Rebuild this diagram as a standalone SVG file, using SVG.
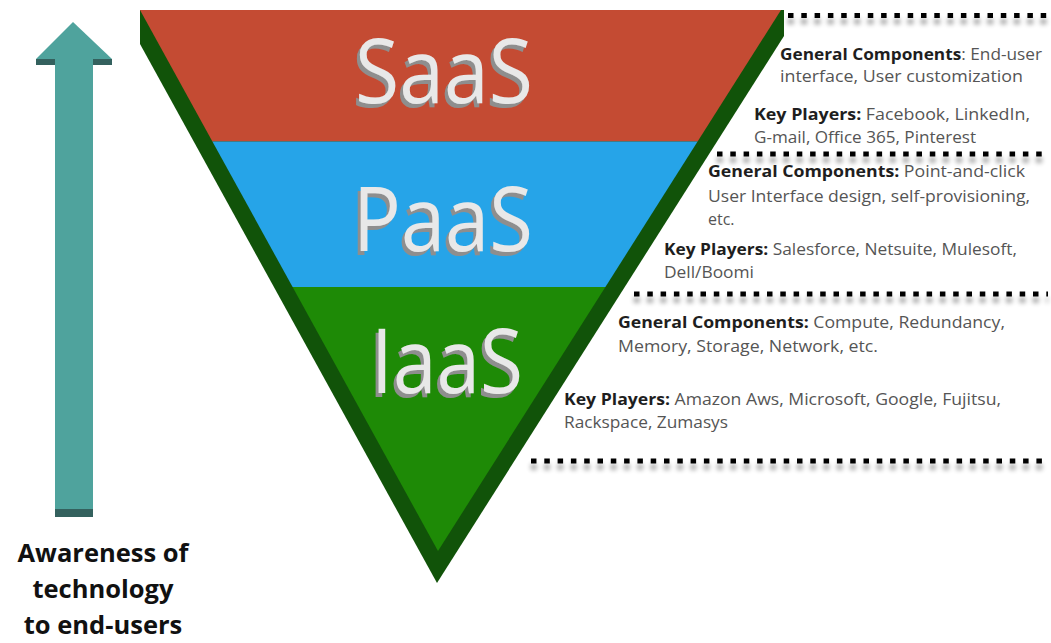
<svg xmlns="http://www.w3.org/2000/svg" width="1051" height="643" viewBox="0 0 1051 643">
  <defs>
    <style>
      .layer-title { font-family: "Open Sans", "Liberation Sans", sans-serif; font-size: 90px; fill: #E8E8E8; filter: url(#depth); }
      .detail { font-family: "Open Sans", "Liberation Sans", sans-serif; font-size: 16px; fill: #555555; }
      .detail .key { font-weight: 700; fill: #1E1E1E; }
      .dots { stroke: #000000; stroke-width: 5; stroke-dasharray: 5.5 7.8; fill: none; }
      .axis-label { font-family: "Open Sans", "Liberation Sans", sans-serif; font-size: 25.5px; font-weight: 700; fill: #111111; text-anchor: middle; }
    </style>
    <!-- grey extrusion under the layer titles -->
    <filter id="depth" x="-10%" y="-20%" width="120%" height="140%">
      <feOffset in="SourceAlpha" dx="-3" dy="4" result="moved"/>
      <feFlood flood-color="#8E8E8E"/>
      <feComposite in2="moved" operator="in" result="extrusion"/>
      <feMerge>
        <feMergeNode in="extrusion"/>
        <feMergeNode in="SourceGraphic"/>
      </feMerge>
    </filter>
    <filter id="soft-shadow" x="-5%" y="-200%" width="110%" height="500%">
      <feGaussianBlur in="SourceAlpha" stdDeviation="2.5" result="blur"/>
      <feOffset in="blur" dx="0" dy="6" result="off"/>
      <feComponentTransfer in="off" result="shade">
        <feFuncA type="linear" slope="0.45"/>
      </feComponentTransfer>
      <feMerge>
        <feMergeNode in="shade"/>
        <feMergeNode in="SourceGraphic"/>
      </feMerge>
    </filter>
  </defs>

  <rect width="1051" height="643" fill="#FFFFFF"/>

  <!-- upward arrow: awareness of technology -->
  <g id="arrow">
    <rect x="55" y="59" width="38" height="452" fill="#4FA39D"/>
    <rect x="55" y="509" width="38" height="8" fill="#34615E"/>
    <rect x="36" y="59" width="19" height="6" fill="#34615E"/>
    <rect x="93" y="59" width="19" height="6" fill="#34615E"/>
    <polygon points="73,22 112,59 36,59" fill="#4FA39D"/>
  </g>

  <g id="awareness-label">
    <text class="axis-label" x="103" y="562">Awareness of</text>
    <text class="axis-label" x="103" y="598">technology</text>
    <text class="axis-label" x="103" y="634">to end-users</text>
  </g>

  <!-- inverted pyramid with extruded edge -->
  <g id="pyramid">
    <polygon points="140,10 140,44 437,583 784,36 784,10" fill="#115309"/>
    <g id="layer-saas">
      <polygon points="140,10 781,10 697.6,141.5 212.4,141.5" fill="#C44B33"/>
      <text class="layer-title" x="355" y="103" textLength="178" lengthAdjust="spacingAndGlyphs">SaaS</text>
    </g>
    <g id="layer-paas">
      <polygon points="212.4,141.5 697.6,141.5 605.4,287 292.6,287" fill="#26A4E8"/>
      <text class="layer-title" x="353" y="251" textLength="180" lengthAdjust="spacingAndGlyphs">PaaS</text>
    </g>
    <g id="layer-iaas">
      <polygon points="292.6,287 605.4,287 438,551" fill="#1E8A06"/>
      <text class="layer-title" x="371" y="393" textLength="152" lengthAdjust="spacingAndGlyphs">IaaS</text>
    </g>
  </g>

  <!-- dotted separators between the layer descriptions -->
  <g id="separators" filter="url(#soft-shadow)">
    <line class="dots" x1="788" y1="15.5" x2="1048" y2="15.5"/>
    <line class="dots" x1="717" y1="154" x2="1048" y2="154"/>
    <line class="dots" x1="634" y1="294" x2="1048" y2="294"/>
    <line class="dots" x1="531" y1="461" x2="1048" y2="461"/>
  </g>

  <g id="details-saas">
    <text class="detail" x="780" y="60" textLength="262" lengthAdjust="spacingAndGlyphs"><tspan class="key">General Components</tspan>: End-user</text>
    <text class="detail" x="780" y="82" textLength="243" lengthAdjust="spacingAndGlyphs">interface, User customization</text>
    <text class="detail" x="754" y="120" textLength="276" lengthAdjust="spacingAndGlyphs"><tspan class="key">Key Players:</tspan> Facebook, LinkedIn,</text>
    <text class="detail" x="754" y="143" textLength="222" lengthAdjust="spacingAndGlyphs">G-mail, Office 365, Pinterest</text>
  </g>

  <g id="details-paas">
    <text class="detail" x="708" y="177" textLength="317" lengthAdjust="spacingAndGlyphs"><tspan class="key">General Components:</tspan> Point-and-click</text>
    <text class="detail" x="708" y="202" textLength="322" lengthAdjust="spacingAndGlyphs">User Interface design, self-provisioning,</text>
    <text class="detail" x="708" y="225">etc.</text>
    <text class="detail" x="664" y="255" textLength="353" lengthAdjust="spacingAndGlyphs"><tspan class="key">Key Players:</tspan> Salesforce, Netsuite, Mulesoft,</text>
    <text class="detail" x="664" y="278" textLength="90" lengthAdjust="spacingAndGlyphs">Dell/Boomi</text>
  </g>

  <g id="details-iaas">
    <text class="detail" x="618" y="328" textLength="387" lengthAdjust="spacingAndGlyphs"><tspan class="key">General Components:</tspan> Compute, Redundancy,</text>
    <text class="detail" x="618" y="352" textLength="260" lengthAdjust="spacingAndGlyphs">Memory, Storage, Network, etc.</text>
    <text class="detail" x="564" y="405" textLength="437" lengthAdjust="spacingAndGlyphs"><tspan class="key">Key Players:</tspan> Amazon Aws, Microsoft, Google, Fujitsu,</text>
    <text class="detail" x="564" y="428" textLength="164" lengthAdjust="spacingAndGlyphs">Rackspace, Zumasys</text>
  </g>
</svg>
